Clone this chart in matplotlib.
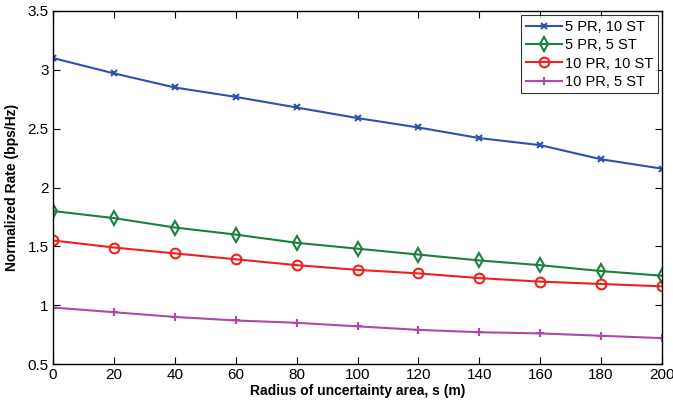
import matplotlib
matplotlib.use("Agg")
import matplotlib.pyplot as plt

plt.rcParams['font.family'] = ['Liberation Sans', 'DejaVu Sans']

radius = [0, 20, 40, 60, 80, 100, 120, 140, 160, 180, 200]
s5pr_10st = [3.10, 2.97, 2.85, 2.77, 2.68, 2.59, 2.51, 2.42, 2.36, 2.24, 2.16]
s5pr_5st = [1.80, 1.74, 1.66, 1.60, 1.53, 1.48, 1.43, 1.38, 1.34, 1.29, 1.25]
s10pr_10st = [1.55, 1.49, 1.44, 1.39, 1.34, 1.30, 1.27, 1.23, 1.20, 1.18, 1.16]
s10pr_5st = [0.98, 0.94, 0.90, 0.87, 0.85, 0.82, 0.79, 0.77, 0.76, 0.74, 0.72]
labels = ['5 PR, 10 ST', '5 PR, 5 ST', '10 PR, 10 ST', '10 PR, 5 ST']
xticks = [0, 20, 40, 60, 80, 100, 120, 140, 160, 180, 200]
yticks = [0.5, 1, 1.5, 2, 2.5, 3, 3.5]
yticklabels = ['0.5', '1', '1.5', '2', '2.5', '3', '3.5']

fig = plt.figure(figsize=(6.73, 4.07), dpi=100)
ax = fig.add_axes([53/673, 1 - 364/407, (662-53)/673, (364-11)/407])

ax.plot(radius, s5pr_10st, color='#3050b0', marker='x', ms=5, mew=1.5, lw=1.5, label=labels[0])
ax.plot(radius, s5pr_5st, color='#1a8040', marker='d', ms=7, mfc='none', mew=1.5, lw=1.5, label=labels[1])
ax.plot(radius, s10pr_10st, color='#ee2020', marker='o', ms=7, mfc='none', mew=1.5, lw=1.5, label=labels[2])
ax.plot(radius, s10pr_5st, color='#b048a8', marker='+', ms=6, mew=1.5, lw=1.5, label=labels[3])

ax.set_xlim(0, 200)
ax.set_ylim(0.5, 3.5)
ax.set_xticks(xticks)
ax.set_yticks(yticks)
ax.set_yticklabels(yticklabels)
ax.tick_params(direction='in', top=True, right=True, labelsize=11, length=5, width=0.8, pad=3)
for sp in ax.spines.values():
    sp.set_linewidth(1.0)

ax.set_xlabel('Radius of uncertainty area, s (m)', fontsize=10, fontweight='bold', labelpad=1)
ax.set_ylabel('Normalized Rate (bps/Hz)', fontsize=10, fontweight='bold', labelpad=6)

leg = ax.legend(loc='upper right', fontsize=10.5, frameon=True, fancybox=False, edgecolor='black',
                borderaxespad=0.3, handlelength=2.5, handletextpad=0.2, labelspacing=0.3,
                borderpad=0.3)
leg.get_frame().set_linewidth(0.8)

fig.savefig('out.png', dpi=100)
